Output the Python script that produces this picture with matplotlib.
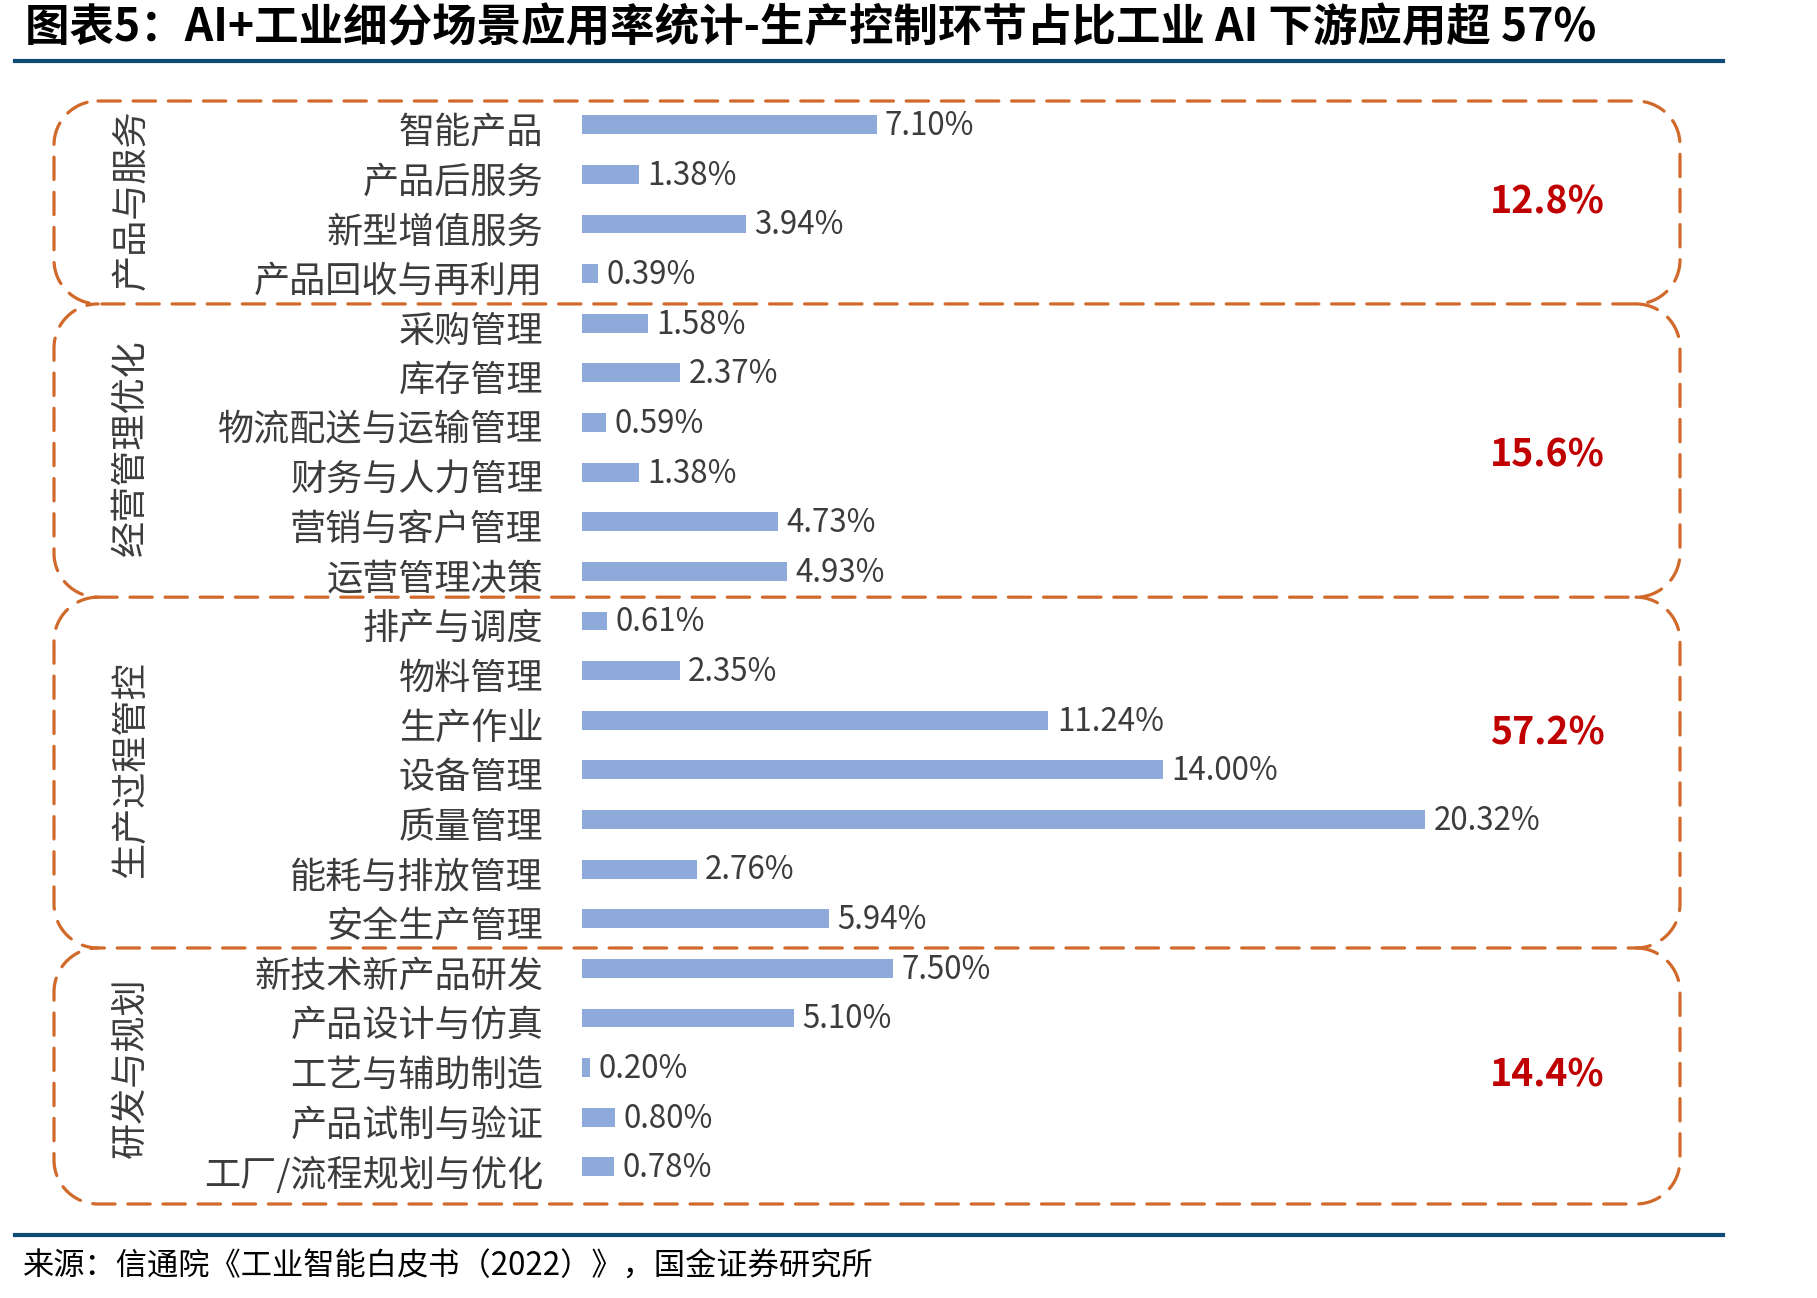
import matplotlib
matplotlib.use("Agg")
import matplotlib.pyplot as plt
import matplotlib.transforms as mtransforms
from matplotlib.patches import PathPatch
from matplotlib.path import Path
from matplotlib.lines import Line2D

plt.rcParams['font.family'] = ['Noto Sans CJK SC', 'DejaVu Sans']

# ---------------- data ----------------
groups = ['产品与服务', '经营管理优化', '生产过程管控', '研发与规划']
group_totals = ['12.8%', '15.6%', '57.2%', '14.4%']

cats_service = ['智能产品', '产品后服务', '新型增值服务', '产品回收与再利用']
vals_service = [7.10, 1.38, 3.94, 0.39]

cats_manage = ['采购管理', '库存管理', '物流配送与运输管理', '财务与人力管理', '营销与客户管理', '运营管理决策']
vals_manage = [1.58, 2.37, 0.59, 1.38, 4.73, 4.93]

cats_prod = ['排产与调度', '物料管理', '生产作业', '设备管理', '质量管理', '能耗与排放管理', '安全生产管理']
vals_prod = [0.61, 2.35, 11.24, 14.00, 20.32, 2.76, 5.94]

cats_rd = ['新技术新产品研发', '产品设计与仿真', '工艺与辅助制造', '产品试制与验证', '工厂/流程规划与优化']
vals_rd = [7.50, 5.10, 0.20, 0.80, 0.78]

title = '图表5：AI+工业细分场景应用率统计-生产控制环节占比工业 AI 下游应用超 57%'
source = '来源：信通院《工业智能白皮书（2022）》，国金证券研究所'

group_cats = [cats_service, cats_manage, cats_prod, cats_rd]
group_vals = [vals_service, vals_manage, vals_prod, vals_rd]

# ---------------- figure ----------------
W, H = 1817, 1298
DPI = 100
fig = plt.figure(figsize=(W / DPI, H / DPI), dpi=DPI)
fig.patch.set_facecolor('white')

BAR_COLOR = '#8EAADB'
TEXT_COLOR = '#3C3C3C'
BOX_COLOR = '#D0692A'
RED = '#C00000'
RULE = '#0F4C75'

# bar axes (pixel layout)
ax_left, ax_right = 582, 1680
ax_top, ax_bottom = 101, 1204
ax = fig.add_axes([ax_left / W, 1 - ax_bottom / H, (ax_right - ax_left) / W, (ax_bottom - ax_top) / H])
ax.set_facecolor('none')

labels, values, rows = [], [], []
group_rows = []
r = 0
for cats, vals in zip(group_cats, group_vals):
    start = r
    for c, v in zip(cats, vals):
        labels.append(c)
        values.append(v)
        rows.append(r)
        r += 1
    group_rows.append((start, r - 1))

px_per_pct = 41.5
y_lo, y_hi = -0.48, 21.75
ax.set_xlim(0, (ax_right - ax_left) / px_per_pct)
ax.set_ylim(y_hi, y_lo)

ax.barh(rows, values, height=0.38, color=BAR_COLOR, edgecolor='none')
for y, v in zip(rows, values):
    ax.annotate(f'{v:.2f}%', (v, y), xytext=(6, -1), textcoords='offset points',
                ha='left', va='center', fontsize=22.5, color=TEXT_COLOR)

ax.set_yticks(rows)
ax.set_yticklabels(labels, fontsize=26, color=TEXT_COLOR)
ax.tick_params(axis='y', length=0, pad=28)
shift = mtransforms.ScaledTranslation(0, -3 / 72, fig.dpi_scale_trans)
for lab in ax.get_yticklabels():
    lab.set_transform(lab.get_transform() + shift)
ax.set_xticks([])
for s in ax.spines.values():
    s.set_visible(False)

# group totals (red)
total_rows = [1.55, 6.65, 12.25, 19.15]
total_x = (1547 - ax_left) / px_per_pct
for t, yr in zip(group_totals, total_rows):
    ax.text(total_x, yr, t, ha='center', va='center', fontsize=27,
            fontweight='bold', color=RED)

# ---------------- overlay in pixel space ----------------
ov = fig.add_axes([0, 0, 1, 1], zorder=-1)
ov.set_xlim(0, W)
ov.set_ylim(H, 0)
ov.axis('off')

def row_to_px(rw):
    return ax_top + (rw - y_lo) / (y_hi - y_lo) * (ax_bottom - ax_top)

def box_path(l, rt, t, b, rad, with_top):
    k = 0.5523 * rad
    verts, codes = [], []
    def mv(p):
        verts.append(p); codes.append(Path.MOVETO)
    def ln(p):
        verts.append(p); codes.append(Path.LINETO)
    def cv(p1, p2, p3):
        verts.extend([p1, p2, p3]); codes.extend([Path.CURVE4] * 3)
    if with_top:
        mv((l + rad, t))
        ln((rt - rad, t))
    else:
        mv((rt - rad, t))
    cv((rt - rad + k, t), (rt, t + rad - k), (rt, t + rad))
    ln((rt, b - rad))
    cv((rt, b - rad + k), (rt - rad + k, b), (rt - rad, b))
    ln((l + rad, b))
    cv((l + rad - k, b), (l, b - rad + k), (l, b - rad))
    ln((l, t + rad))
    cv((l, t + rad - k), (l + rad - k, t), (l + rad, t))
    return Path(verts, codes)

edges = [-0.48, 3.61, 9.52, 16.59, 21.75]
box_l, box_r = 54, 1680
for i in range(4):
    y0 = row_to_px(edges[i])
    y1 = row_to_px(edges[i + 1])
    pth = box_path(box_l, box_r, y0, y1, 44, with_top=(i == 0))
    ov.add_patch(PathPatch(pth, fill=False, edgecolor=BOX_COLOR, linewidth=2.3,
                           linestyle=(0, (7, 4)), capstyle='round'))
    # vertical group label
    gs, ge = group_rows[i]
    yc = row_to_px((gs + ge) / 2)
    ov.text(131, yc, groups[i], rotation=90, ha='center', va='center',
            fontsize=26, color=TEXT_COLOR)

# title & rules
fig.text(25 / W, 1 - 28 / H, title, ha='left', va='center', fontsize=32,
         fontweight='bold', color='black')
ov.add_line(Line2D([15, 1723], [61, 61], color=RULE, linewidth=3))
ov.add_line(Line2D([15, 1723], [1235, 1235], color=RULE, linewidth=3))
fig.text(23 / W, 1 - 1267 / H, source, ha='left', va='center', fontsize=22.5,
         color='black')

fig.savefig('out.png', dpi=DPI)
